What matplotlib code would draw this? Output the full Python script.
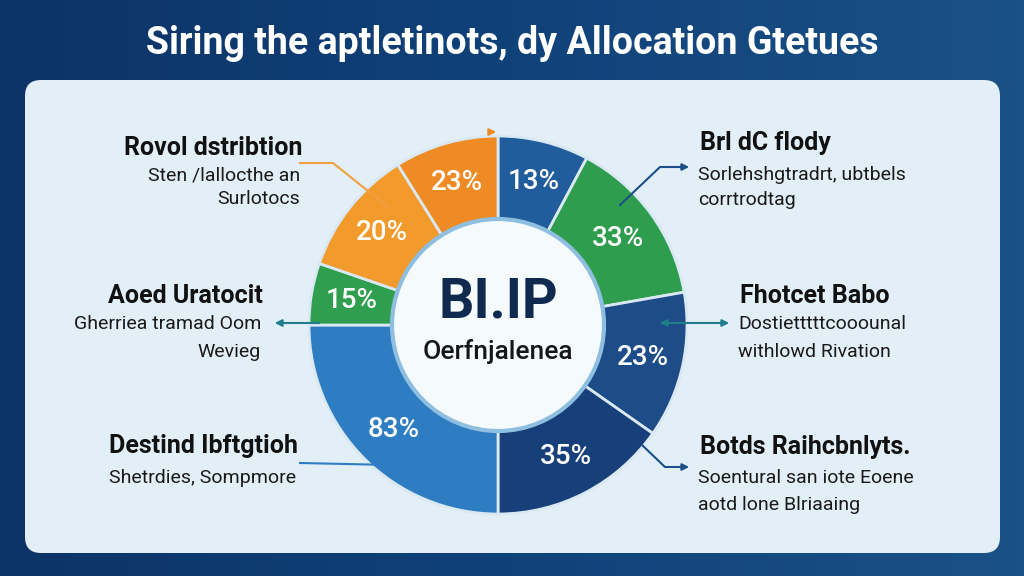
import numpy as np
import matplotlib
matplotlib.use("Agg")
import matplotlib.pyplot as plt
from matplotlib.patches import FancyBboxPatch, Circle
from matplotlib.colors import LinearSegmentedColormap

plt.rcParams['font.family'] = ['Roboto', 'DejaVu Sans']

# ring segments, clockwise from 12 o'clock (sizes read as angle shares)
seg_sizes = [28, 52, 45, 55, 90, 19, 39, 32]
seg_labels = ["13%", "33%", "23%", "35%", "83%", "15%", "20%", "23%"]
seg_colors = ["#215c9c", "#2f9d4e", "#1d4c88", "#173f7a", "#2e7cc2",
              "#2f9f4f", "#f39a2c", "#ee8b24"]

title = "Siring the aptletinots, dy Allocation Gtetues"
center_big = "BI.IP"
center_small = "Oerfnjalenea"

left_heads = ["Rovol dstribtion", "Aoed Uratocit", "Destind Ibftgtioh"]
left_subs = [["Sten /lallocthe an", "Surlotocs"],
             ["Gherriea tramad Oom", "Wevieg"],
             ["Shetrdies, Sompmore"]]
right_heads = ["Brl dC flody", "Fhotcet Babo", "Botds Raihcbnlyts."]
right_subs = [["Sorlehshgtradrt, ubtbels", "corrtrodtag"],
              ["Dostietttttcooounal", "withlowd Rivation"],
              ["Soentural san iote Eoene", "aotd lone Blriaaing"]]

W, H = 1024, 576
def Y(py):
    return H - py

fig = plt.figure(figsize=(10.24, 5.76), dpi=100)
ax = fig.add_axes([0, 0, 1, 1])

# background gradient
grad = np.linspace(0, 1, 256).reshape(1, -1)
bg = LinearSegmentedColormap.from_list("bg", ["#0c3366", "#10427a", "#1a5186"])
ax.imshow(grad, extent=[0, W, 0, H], cmap=bg, aspect='auto', zorder=0)

panel = FancyBboxPatch((25, Y(553)), 975, 473,
                       boxstyle="round,pad=0,rounding_size=16",
                       fc="#e3eff7", ec="none", zorder=1)
ax.add_patch(panel)

ax.text(512, Y(44), title, color="white", fontsize=27, fontweight="bold",
        ha="center", va="center", zorder=5)

# donut
cx, cy = 498, Y(325)
R, ring = 189, 84
wedges, _ = ax.pie(seg_sizes, colors=seg_colors, startangle=90, counterclock=False,
                   radius=R, center=(cx, cy),
                   wedgeprops=dict(width=ring, edgecolor="#d9e8f2", linewidth=2))
for w in wedges:
    w.set_zorder(3)

for w, lab in zip(wedges, seg_labels):
    th = np.deg2rad((w.theta1 + w.theta2) / 2)
    ax.text(cx + 148 * np.cos(th), cy + 148 * np.sin(th), lab, color="white",
            fontsize=20, fontweight="medium", ha="center", va="center", zorder=5)

ax.add_patch(Circle((cx, cy), R - ring + 1, fc="#f5fafd", ec="#8fbfe0", lw=3, zorder=4))
ax.text(cx, Y(302), center_big, color="#10294f", fontsize=40, fontweight="bold",
        ha="center", va="center", zorder=5)
ax.text(cx, Y(352), center_small, color="#161616", fontsize=19, fontweight="medium",
        ha="center", va="center", zorder=5)

# side annotations
left_pos = [(302, 148, [176, 199]), (263, 296, [324, 352]), (298, 446, [478])]
right_pos = [(700, 143, [175, 200]), (740, 296, [324, 352]), (700, 447, [478, 505])]
for (x, yh, ys), head, subs in zip(left_pos, left_heads, left_subs):
    ax.text(x, Y(yh), head, fontsize=18, fontweight="bold", color="#111111",
            ha="right", va="center", zorder=5)
    for yy, s in zip(ys, subs):
        ax.text(x - 2, Y(yy), s, fontsize=14, color="#1a1a1a",
                ha="right", va="center", zorder=5)
for (x, yh, ys), head, subs in zip(right_pos, right_heads, right_subs):
    ax.text(x, Y(yh), head, fontsize=18, fontweight="bold", color="#111111",
            ha="left", va="center", zorder=5)
    for yy, s in zip(ys, subs):
        ax.text(x - 2, Y(yy), s, fontsize=14, color="#1a1a1a",
                ha="left", va="center", zorder=5)

# connectors
ax.plot([300, 333, 388], [Y(163), Y(163), Y(207)], color="#f0a040", lw=1.5, zorder=6)
ax.annotate("", xy=(499, Y(132)), xytext=(486, Y(132)),
            arrowprops=dict(arrowstyle="-|>", color="#ee8b24", lw=1.5), zorder=6)
ax.plot([620, 660, 680], [Y(205), Y(167), Y(167)], color="#1c4f8a", lw=1.5, zorder=6)
ax.annotate("", xy=(692, Y(167)), xytext=(676, Y(167)),
            arrowprops=dict(arrowstyle="-|>", color="#1c4f8a", lw=1.5), zorder=6)
ax.annotate("", xy=(657, Y(323)), xytext=(732, Y(323)),
            arrowprops=dict(arrowstyle="<|-|>", color="#1f7d8c", lw=1.5), zorder=6)
ax.annotate("", xy=(272, Y(323)), xytext=(322, Y(323)),
            arrowprops=dict(arrowstyle="-|>", color="#1f7d8c", lw=1.5), zorder=6)
ax.plot([300, 392], [Y(463), Y(465)], color="#2e7cc2", lw=1.5, zorder=6)
ax.plot([642, 665, 680], [Y(445), Y(467), Y(467)], color="#1c4f8a", lw=1.5, zorder=6)
ax.annotate("", xy=(692, Y(467)), xytext=(676, Y(467)),
            arrowprops=dict(arrowstyle="-|>", color="#1c4f8a", lw=1.5), zorder=6)

ax.set_xlim(0, W)
ax.set_ylim(0, H)
ax.set_aspect("equal")
ax.axis("off")
fig.savefig("out.png", dpi=100)
